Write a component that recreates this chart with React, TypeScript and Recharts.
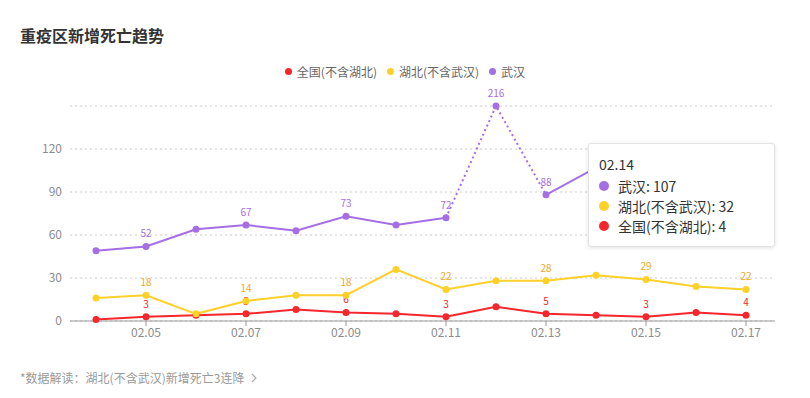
import React from "react";
import { CartesianGrid, Legend, Line, LineChart, Tooltip, XAxis, YAxis } from "recharts";

const dates = ["02.04", "02.05", "02.06", "02.07", "02.08", "02.09", "02.10", "02.11", "02.12", "02.13", "02.14", "02.15", "02.16", "02.17"];
const nationalDeaths = [1, 3, 4, 5, 8, 6, 5, 3, 10, 5, 4, 3, 6, 4];
const hubeiDeaths = [16, 18, 5, 14, 18, 18, 36, 22, 28, 28, 32, 29, 24, 22];
const wuhanDeaths = [49, 52, 64, 67, 63, 73, 67, 72, 216, 88, 107, 110, 76, 72];
const tickDates = ["02.05", "02.07", "02.09", "02.11", "02.13", "02.15", "02.17"];
const yTicks = [0, 30, 60, 90, 120, 150];
const Y_MAX = 150;

const RED = "#f5262c";
const YELLOW = "#fdd02a";
const PURPLE = "#a66ee3";
const FONT = '"Noto Sans CJK SC", "Noto Sans", sans-serif';

const SERIES = [
  { key: "national", name: "全国(不含湖北)", color: RED, labelColor: RED },
  { key: "hubei", name: "湖北(不含武汉)", color: YELLOW, labelColor: "#f5a81c" },
  { key: "wuhan", name: "武汉", color: PURPLE, labelColor: PURPLE },
];

// values above the axis max are pinned to the top and joined with a dotted segment
const isOut = (i: number) => wuhanDeaths[i] > Y_MAX;
const rows = dates.map((date, i) => {
  const nearOut = isOut(i) || (i > 0 && isOut(i - 1)) || (i < dates.length - 1 && isOut(i + 1));
  return {
    date,
    national: nationalDeaths[i],
    hubei: hubeiDeaths[i],
    wuhan: wuhanDeaths[i],
    wuhanSolid: isOut(i) ? null : wuhanDeaths[i],
    wuhanDotted: nearOut ? Math.min(wuhanDeaths[i], Y_MAX) : null,
  };
});

// dot + value label drawn together, so later series sit on top of earlier labels
const makeDot = (key: string, color: string, labelColor: string, onlyOutliers = false) => (props: any) => {
  const { cx, cy, index } = props;
  const row: any = rows[index];
  const k = `d-${key}-${index}`;
  if (cx == null || cy == null) return <g key={k} />;
  const showDot = onlyOutliers ? isOut(index) : true;
  const showLabel = onlyOutliers ? isOut(index) : tickDates.includes(row.date);
  return (
    <g key={k}>
      {showLabel && (
        <text x={cx} y={cy - 9} textAnchor="middle" fontSize={10} fill={labelColor} fontFamily={FONT}>
          {row[key]}
        </text>
      )}
      {showDot && <circle cx={cx} cy={cy} r={3.5} fill={color} />}
    </g>
  );
};

const YTick = (props: any) => {
  const { x, y, payload } = props;
  if (payload.value === Y_MAX) return <g />;
  return (
    <text x={x} y={y} dy={4} textAnchor="end" fontSize={12} fill="#8c8c8c" fontFamily={FONT}>
      {payload.value}
    </text>
  );
};

function LegendContent() {
  return (
    <div style={{ display: "flex", justifyContent: "center", gap: 10, fontSize: 12, color: "#666", fontFamily: FONT }}>
      {SERIES.map((s) => (
        <div key={s.key} style={{ display: "flex", alignItems: "center" }}>
          <span style={{ width: 7, height: 7, borderRadius: 4, background: s.color, marginRight: 5, display: "inline-block" }} />
          {s.name}
        </div>
      ))}
    </div>
  );
}

function TooltipContent({ payload }: any) {
  if (!payload || !payload.length) return null;
  const row = payload[0].payload;
  return (
    <div
      style={{
        background: "#fff",
        border: "1px solid #e4e4e4",
        boxShadow: "0 1px 4px rgba(0,0,0,0.12)",
        borderRadius: 3,
        padding: "10px 12px 10px 10px",
        fontFamily: FONT,
        fontSize: 14,
        color: "#333",
        lineHeight: "20px",
        width: 163,
      }}
    >
      <div style={{ marginBottom: 2 }}>{row.date}</div>
      {[...SERIES].reverse().map((s) => (
        <div key={s.key} style={{ display: "flex", alignItems: "center" }}>
          <span style={{ width: 10, height: 10, borderRadius: 5, background: s.color, marginRight: 9, display: "inline-block" }} />
          {s.name}: {row[s.key]}
        </div>
      ))}
    </div>
  );
}

export default function App() {
  return (
    <div style={{ position: "absolute", left: 0, top: 0, width: 810, height: 398, background: "#fff", fontFamily: FONT }}>
      <div style={{ position: "absolute", left: 20, top: 23, fontSize: 16, fontWeight: 700, color: "#333" }}>重疫区新增死亡趋势</div>
      <LineChart width={810} height={398} data={rows} margin={{ top: 89, right: 35, bottom: 47, left: 0 }}>
        <CartesianGrid vertical={false} stroke="#cccccc" strokeDasharray="2 3" />
        <XAxis
          dataKey="date"
          ticks={tickDates}
          interval={0}
          padding={{ left: 26, right: 29 }}
          axisLine={{ stroke: "#999" }}
          tickLine={{ stroke: "#999" }}
          tickSize={5}
          tick={{ fontSize: 12, fill: "#8c8c8c", fontFamily: FONT }}
        />
        <YAxis width={70} domain={[0, Y_MAX]} ticks={yTicks} axisLine={false} tickLine={false} tick={<YTick />} />
        <Legend
          verticalAlign="top"
          content={<LegendContent />}
          wrapperStyle={{ top: 63, left: 0, width: 810 }}
        />
        <Tooltip
          active
          defaultIndex={10}
          cursor={false}
          isAnimationActive={false}
          position={{ x: 588, y: 143 }}
          content={<TooltipContent />}
        />
        <Line
          type="linear"
          dataKey="national"
          name={SERIES[0].name}
          stroke={RED}
          strokeWidth={2}
          dot={makeDot("national", RED, SERIES[0].labelColor)}
          activeDot={false}
          isAnimationActive={false}
        />
        <Line
          type="linear"
          dataKey="hubei"
          name={SERIES[1].name}
          stroke={YELLOW}
          strokeWidth={2}
          dot={makeDot("hubei", YELLOW, SERIES[1].labelColor)}
          activeDot={false}
          isAnimationActive={false}
        />
        <Line
          type="linear"
          dataKey="wuhanDotted"
          name="武汉(超出)"
          stroke={PURPLE}
          strokeWidth={2}
          strokeDasharray="2 3"
          dot={makeDot("wuhan", PURPLE, SERIES[2].labelColor, true)}
          activeDot={false}
          isAnimationActive={false}
        />
        <Line
          type="linear"
          dataKey="wuhanSolid"
          name={SERIES[2].name}
          stroke={PURPLE}
          strokeWidth={2}
          dot={makeDot("wuhan", PURPLE, SERIES[2].labelColor)}
          activeDot={false}
          isAnimationActive={false}
        />
      </LineChart>
      <div style={{ position: "absolute", left: 20, top: 369, fontSize: 12, color: "#999", display: "flex", alignItems: "center" }}>
        *数据解读：湖北(不含武汉)新增死亡3连降
        <svg width={12} height={12} style={{ marginLeft: 4 }}>
          <path d="M4 2 L8 6 L4 10" fill="none" stroke="#aaa" strokeWidth={1.2} />
        </svg>
      </div>
    </div>
  );
}
